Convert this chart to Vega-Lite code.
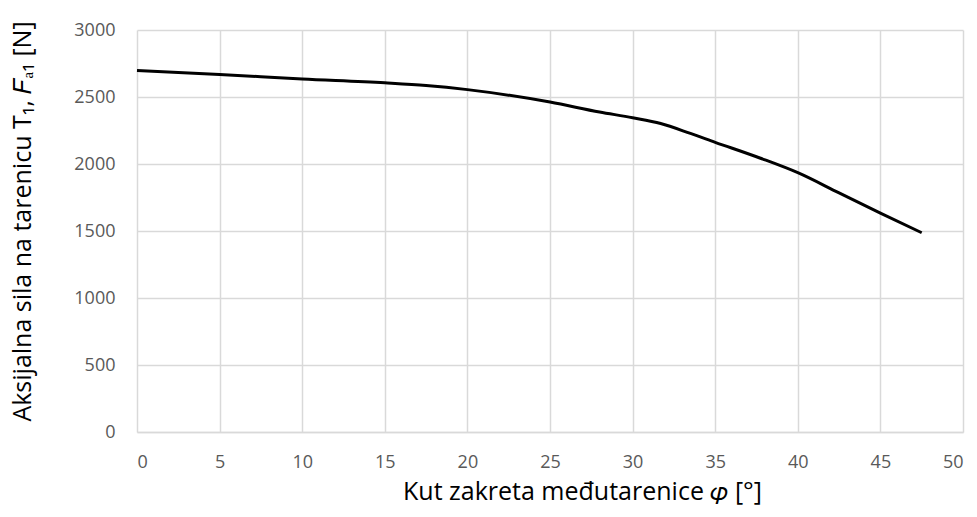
{
  "$schema": "https://vega.github.io/schema/vega-lite/v6.json",
  "width": 826,
  "height": 402,
  "autosize": {"type": "none"},
  "padding": {"left": 137, "top": 30, "right": 14, "bottom": 85},
  "background": "white",
  "config": {
    "view": {"stroke": null},
    "font": "Open Sans"
  },
  "data": {
    "values": [
      {"phi": 0, "F": 2697},
      {"phi": 5, "F": 2668},
      {"phi": 10, "F": 2635},
      {"phi": 15, "F": 2606},
      {"phi": 17.5, "F": 2586},
      {"phi": 20, "F": 2555},
      {"phi": 25, "F": 2462},
      {"phi": 28, "F": 2388},
      {"phi": 30, "F": 2345},
      {"phi": 31.7, "F": 2302},
      {"phi": 33.5, "F": 2228},
      {"phi": 35, "F": 2162},
      {"phi": 37.7, "F": 2045},
      {"phi": 40, "F": 1935},
      {"phi": 42.5, "F": 1784},
      {"phi": 45, "F": 1634},
      {"phi": 47.5, "F": 1487}
    ]
  },
  "mark": {"type": "line", "color": "black", "strokeWidth": 3, "interpolate": "monotone"},
  "encoding": {
    "x": {
      "field": "phi", "type": "quantitative",
      "scale": {"domain": [0, 50], "nice": false, "zero": false},
      "axis": {
        "title": "Kut zakreta međutarenice 𝜑 [°]",
        "values": [0, 5, 10, 15, 20, 25, 30, 35, 40, 45, 50],
        "format": "d",
        "grid": true, "gridColor": "#d9d9d9", "gridWidth": 1.5,
        "domain": true, "domainColor": "#d9d9d9", "domainWidth": 1.5,
        "ticks": false,
        "labelFontSize": 18, "labelColor": "#595959", "labelPadding": 21,
        "titleFontSize": 25, "titleFontWeight": "normal", "titleColor": "black", "titlePadding": 8,
        "titleX": 445, "titleAlign": "center"
      }
    },
    "y": {
      "field": "F", "type": "quantitative",
      "scale": {"domain": [0, 3000], "nice": false},
      "axis": {
        "title": "Aksijalna sila na tarenicu T₁, 𝐹ₐ₁ [N]",
        "values": [0, 500, 1000, 1500, 2000, 2500, 3000],
        "format": "d",
        "grid": true, "gridColor": "#d9d9d9", "gridWidth": 1.5,
        "domain": false,
        "ticks": false,
        "labelFontSize": 18, "labelColor": "#595959", "labelPadding": 22,
        "titleFontSize": 25, "titleFontWeight": "normal", "titleColor": "black", "titlePadding": 38,
        "titleY": 191
      }
    }
  }
}
